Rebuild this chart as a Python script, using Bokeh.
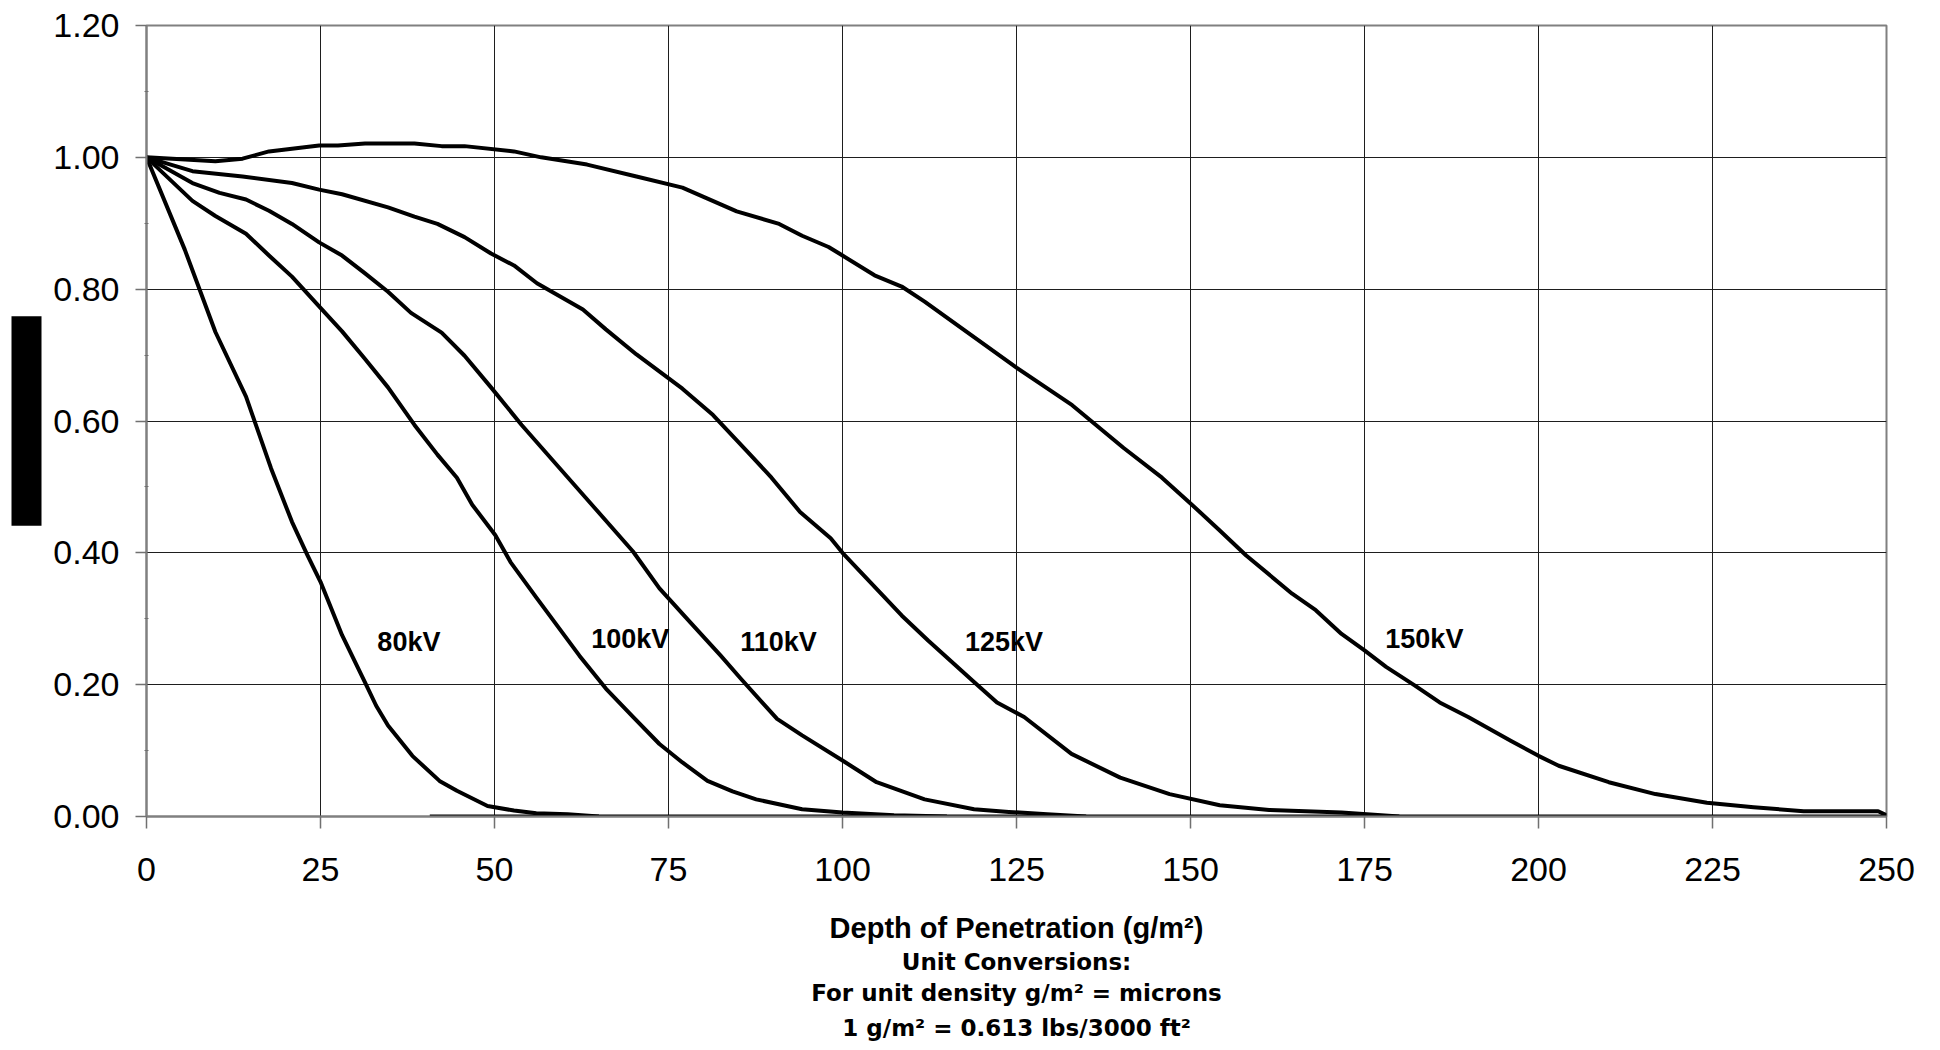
from bokeh.plotting import figure
from bokeh.models import FixedTicker, NumeralTickFormatter, Range1d, ColumnDataSource, Title
from bokeh.embed import file_html
from bokeh.resources import INLINE
from bokeh.core.properties import value

# ---------------- data ----------------
x_ticks = [0, 25, 50, 75, 100, 125, 150, 175, 200, 225, 250]
y_ticks = [0.0, 0.2, 0.4, 0.6, 0.8, 1.0, 1.2]
y_minor = [0.1, 0.3, 0.5, 0.7, 0.9, 1.1]

kv80_x = [0, 5.5, 9.9, 14.3, 17.9, 20.9, 23.1, 25, 28.1, 31.6, 33, 34.7, 38.2, 42.1, 44.6, 49, 52.8, 56, 60.5, 65]
kv80_y = [1.0, 0.86, 0.735, 0.637, 0.528, 0.447, 0.397, 0.356, 0.275, 0.199, 0.168, 0.138, 0.092, 0.054, 0.039, 0.016, 0.009, 0.005, 0.0035, 0.0]

kv100_x = [0, 6.6, 9.9, 14.3, 17.6, 20.9, 24.8, 28.1, 31.4, 34.7, 38.5, 41.8, 44.6, 46.8, 50.1, 52.3, 56.1, 62.2, 66,
           69.9, 73.7, 77, 80.6, 84.2, 87.6, 94.2, 100, 107.4, 115]
kv100_y = [1.0, 0.934, 0.911, 0.884, 0.851, 0.819, 0.774, 0.736, 0.694, 0.651, 0.594, 0.549, 0.514, 0.473, 0.427, 0.386,
           0.331, 0.244, 0.194, 0.151, 0.110, 0.082, 0.054, 0.038, 0.026, 0.011, 0.006, 0.002, 0.0]

kv110_x = [0, 6.6, 10.5, 14.3, 17.6, 20.9, 24.8, 28.1, 31.4, 34.7, 38, 42.4, 45.7, 49.5, 53.9, 59.4, 64.4, 69.9, 73.7,
           78.1, 82.5, 85.4, 90.6, 94.2, 100, 104.9, 111.8, 118.9, 123.9, 129.4, 135]
kv110_y = [1.0, 0.961, 0.946, 0.936, 0.919, 0.899, 0.871, 0.851, 0.824, 0.796, 0.764, 0.734, 0.699, 0.651, 0.594, 0.528,
           0.468, 0.402, 0.346, 0.295, 0.244, 0.209, 0.148, 0.123, 0.085, 0.052, 0.026, 0.011, 0.007, 0.0035, 0.0]

kv125_x = [0, 6.6, 13.8, 20.9, 24.8, 28.1, 34.7, 38.5, 41.8, 45.7, 49.5, 52.8, 56.1, 62.7, 66, 70.4, 77, 81.4, 86.3,
           89.8, 93.9, 98.3, 100, 108.5, 112.3, 118.9, 122.2, 126.1, 132.9, 139.9, 147, 154.2, 161.3, 171.7, 180]
kv125_y = [1.0, 0.979, 0.971, 0.961, 0.951, 0.944, 0.924, 0.910, 0.899, 0.879, 0.854, 0.836, 0.809, 0.769, 0.739, 0.701,
           0.649, 0.609, 0.554, 0.514, 0.462, 0.422, 0.400, 0.305, 0.267, 0.204, 0.173, 0.151, 0.095, 0.059, 0.034,
           0.017, 0.010, 0.006, 0.0]

kv150_x = [0, 9.9, 13.8, 17.6, 24.8, 27.5, 31.4, 38.5, 42.4, 45.7, 52.8, 56.7, 63.3, 70.4, 77, 84.8, 90.9, 94.2, 98,
           100, 104.6, 108.5, 111.8, 118.4, 125, 133, 140.4, 145.9, 150, 154.2, 158, 164.6, 168, 171.7, 175, 178.1,
           182.2, 185.8, 189.9, 196, 200, 202.9, 210.1, 216.8, 224.2, 230.9, 238.1, 248.8, 250]
kv150_y = [1.0, 0.994, 0.998, 1.009, 1.018, 1.018, 1.021, 1.021, 1.017, 1.017, 1.009, 1.0, 0.989, 0.971, 0.954, 0.918,
           0.899, 0.881, 0.864, 0.851, 0.821, 0.804, 0.781, 0.731, 0.681, 0.624, 0.559, 0.514, 0.475, 0.434, 0.396,
           0.338, 0.313, 0.277, 0.252, 0.227, 0.199, 0.173, 0.151, 0.115, 0.092, 0.077, 0.052, 0.034, 0.021, 0.014,
           0.008, 0.008, 0.002]

zero_tail_x = [40.7, 250]
zero_tail_y = [0.0, 0.0]

label_text = ["80kV", "100kV", "110kV", "125kV", "150kV"]
label_x = [37.7, 69.5, 90.8, 123.2, 183.6]
label_y = [0.265, 0.270, 0.265, 0.265, 0.270]

x_title = "Depth of Penetration (g/m\u00b2)"
note_lines = ["Unit Conversions:",
              "For unit density g/m\u00b2 = microns",
              "1 g/m\u00b2 = 0.613 lbs/3000 ft\u00b2"]
note_gaps = [0, 7, 7]

# ---------------- figure ----------------
p = figure(width=1928, height=1044, output_backend="svg", toolbar_location=None,
           x_range=Range1d(0, 250), y_range=Range1d(0, 1.2),
           min_border_left=145, min_border_right=42, min_border_top=25, min_border_bottom=227)
p.background_fill_color = "white"
p.border_fill_color = "white"
p.outline_line_color = "#808080"
p.outline_line_width = 2

p.xgrid.ticker = FixedTicker(ticks=x_ticks)
p.ygrid.ticker = FixedTicker(ticks=y_ticks)
for g in (p.xgrid, p.ygrid):
    g.grid_line_color = "#1e1e1e"
    g.grid_line_width = 1

p.xaxis.ticker = FixedTicker(ticks=x_ticks, minor_ticks=[])
p.yaxis.ticker = FixedTicker(ticks=y_ticks, minor_ticks=y_minor)
p.yaxis.formatter = NumeralTickFormatter(format="0.00")

for ax in (p.xaxis, p.yaxis):
    ax.axis_line_color = "#808080"
    ax.axis_line_width = 2
    ax.major_tick_line_color = "#707070"
    ax.major_tick_line_width = 1.5
    ax.major_tick_in = 0
    ax.minor_tick_line_color = "#707070"
    ax.major_label_text_font = "Liberation Sans"
    ax.major_label_text_font_size = "34px"
    ax.major_label_text_color = "black"
    ax.major_label_text_font_style = "normal"

p.xaxis.major_tick_out = 12
p.xaxis.major_label_standoff = 29
p.yaxis.major_tick_out = 11
p.yaxis.major_label_standoff = 16
p.yaxis.minor_tick_in = 2
p.yaxis.minor_tick_out = 2

# x-axis title
p.xaxis.axis_label = x_title
p.xaxis.axis_label_text_font = "Liberation Sans"
p.xaxis.axis_label_text_font_style = "bold"
p.xaxis.axis_label_text_font_size = "29px"
p.xaxis.axis_label_text_color = "black"
p.xaxis.axis_label_standoff = 28

series = [(kv80_x, kv80_y), (kv100_x, kv100_y), (kv110_x, kv110_y), (kv125_x, kv125_y), (kv150_x, kv150_y),
          (zero_tail_x, zero_tail_y)]
for xs, ys in series:
    p.line(xs, ys, line_color="black", line_width=4, line_join="round")

src = ColumnDataSource(dict(x=label_x, y=label_y, t=label_text))
p.text(x="x", y="y", text="t", source=src, text_font=value("Liberation Sans"), text_font_style="bold",
       text_font_size="27px", text_align="center", text_baseline="middle", text_color="black")

# unit-conversion notes under the axis title, one centred line each
for line, gap in zip(note_lines, note_gaps):
    p.add_layout(Title(text=line, align="center", text_font="DejaVu Sans", text_font_style="bold",
                       text_font_size="23px", text_color="black", standoff=gap), "below")

# redacted y-axis title block (solid black bar)
bar = Title(text="\u00a0" * 29, align="center", text_font="Liberation Sans", text_font_size="26px",
            text_color="black", background_fill_color="black", background_fill_alpha=1.0, standoff=18)
p.add_layout(bar, "left")

open("out.html", "w").write(file_html(p, INLINE))
